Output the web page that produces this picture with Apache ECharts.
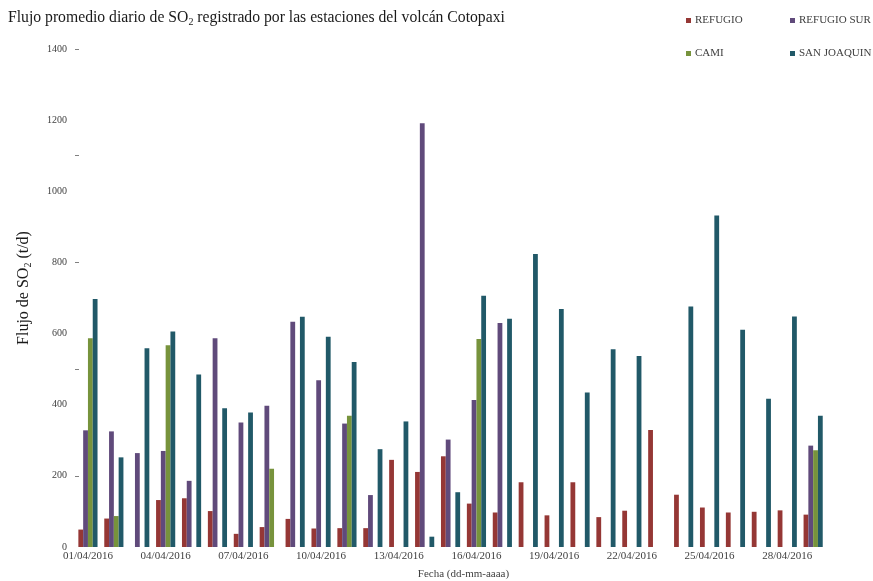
<!DOCTYPE html>
<html>
<head>
<meta charset="utf-8">
<script src="https://cdn.jsdelivr.net/npm/echarts@6/dist/echarts.min.js"></script>
<style>
  html, body { margin: 0; padding: 0; background: #ffffff; overflow: hidden; }
  #chart { width: 873px; height: 581px; }
</style>
</head>
<body>
<div id="chart"></div>
<script>
// Dates of April 2016 (dd/mm/aaaa)
const fechas = [];
for (let d = 1; d <= 30; d++) {
  fechas.push(String(d).padStart(2, '0') + '/04/2016');
}

// Daily mean SO2 flux (t/d) per station; null = no measurement
const refugio = [49, 80, null, 132, 137, 101, 37, 56, 79, 52, 53, 53, 245, 211, 255,
  122, 97, 182, 89, 182, 84, 102, 329, 147, 111, 97, 99, 103, 91, null];
const refugioSur = [328, 325, 264, 270, 186, 587, 350, 397, 633, 469, 347, 146, null, 1191, 302,
  413, 630, null, null, null, null, null, null, null, null, null, null, null, 285, null];
const cami = [587, 87, null, 567, null, null, null, 220, null, null, 369, null, null, null, null,
  585, null, null, null, null, null, null, null, null, null, null, null, null, 272, null];
const sanJoaquin = [697, 252, 559, 606, 485, 390, 378, null, 647, 591, 520, 275, 353, 29, 154,
  706, 642, 824, 669, 434, 556, 537, null, 676, 932, 611, 417, 648, 369, null];

const yTickLabels = [0, 200, 400, 600, 800, 1000, 1200, 1400];
const yTickMarks = [200, 500, 800, 1100, 1400];

const serif = 'Liberation Serif';
const textGrey = '#404040';

const chart = echarts.init(document.getElementById('chart'));

function barSeries(name, data, color) {
  return {
    name: name,
    type: 'bar',
    data: data,
    barGap: '0%',
    barCategoryGap: '26%',
    itemStyle: { color: color },
    emphasis: { disabled: true }
  };
}

const legendText = { fontFamily: serif, fontSize: 11, color: textGrey, padding: [0, 0, 0, -1] };

chart.setOption({
  animation: false,
  backgroundColor: '#ffffff',
  title: {
    left: 8,
    top: 8,
    padding: 0,
    text: 'Flujo promedio diario de SO{sub|2} registrado por las estaciones del volcán Cotopaxi',
    textStyle: {
      fontFamily: serif,
      fontSize: 15.7,
      fontWeight: 'normal',
      color: '#1a1a1a',
      rich: {
        sub: { fontFamily: serif, fontSize: 10, color: '#1a1a1a', verticalAlign: 'bottom', padding: [9, 0, 0, 0] }
      }
    }
  },
  legend: [
    {
      left: 686, top: 15, padding: 0, orient: 'vertical', itemGap: 22,
      itemWidth: 5, itemHeight: 5, icon: 'rect',
      data: ['REFUGIO', 'CAMI'],
      textStyle: legendText
    },
    {
      left: 790, top: 15, padding: 0, orient: 'vertical', itemGap: 22,
      itemWidth: 5, itemHeight: 5, icon: 'rect',
      data: ['REFUGIO SUR', 'SAN JOAQUIN'],
      textStyle: legendText
    }
  ],
  grid: { left: 75, right: 21, top: 49, bottom: 34, containLabel: false, outerBoundsMode: 'none' },
  xAxis: {
    type: 'category',
    data: fechas,
    name: 'Fecha (dd-mm-aaaa)',
    nameLocation: 'middle',
    nameGap: 22,
    nameTextStyle: { fontFamily: serif, fontSize: 11, color: textGrey },
    axisLine: { show: false },
    axisTick: { show: false },
    axisLabel: { interval: 2, fontFamily: serif, fontSize: 11, color: textGrey, margin: 4 }
  },
  yAxis: [
    {
      type: 'value',
      min: 0, max: 1400, interval: 200,
      name: 'Flujo de SO{sub|2} (t/d)',
      nameLocation: 'middle',
      nameGap: 42,
      nameTextStyle: {
        fontFamily: serif, fontSize: 16, color: '#1a1a1a',
        padding: [0, 0, 0, 20],
        rich: { sub: { fontFamily: serif, fontSize: 10, color: '#1a1a1a', verticalAlign: 'bottom', padding: [9, 0, 0, 0] } }
      },
      axisLine: { show: false },
      axisTick: { show: false },
      splitLine: { show: false },
      axisLabel: {
        fontFamily: serif, fontSize: 10, color: textGrey, margin: 8,
        customValues: yTickLabels,
        formatter: function (v) { return String(v); }
      }
    },
    {
      type: 'value',
      min: 0, max: 1400,
      position: 'left',
      axisLine: { show: false },
      splitLine: { show: false },
      axisLabel: { show: false },
      axisTick: { show: true, inside: true, length: 4, customValues: yTickMarks, lineStyle: { color: '#808080', width: 1 } }
    }
  ],
  series: [
    barSeries('REFUGIO', refugio, '#953735'),
    barSeries('REFUGIO SUR', refugioSur, '#604a7b'),
    barSeries('CAMI', cami, '#77933c'),
    barSeries('SAN JOAQUIN', sanJoaquin, '#215968')
  ]
});
</script>
</body>
</html>
